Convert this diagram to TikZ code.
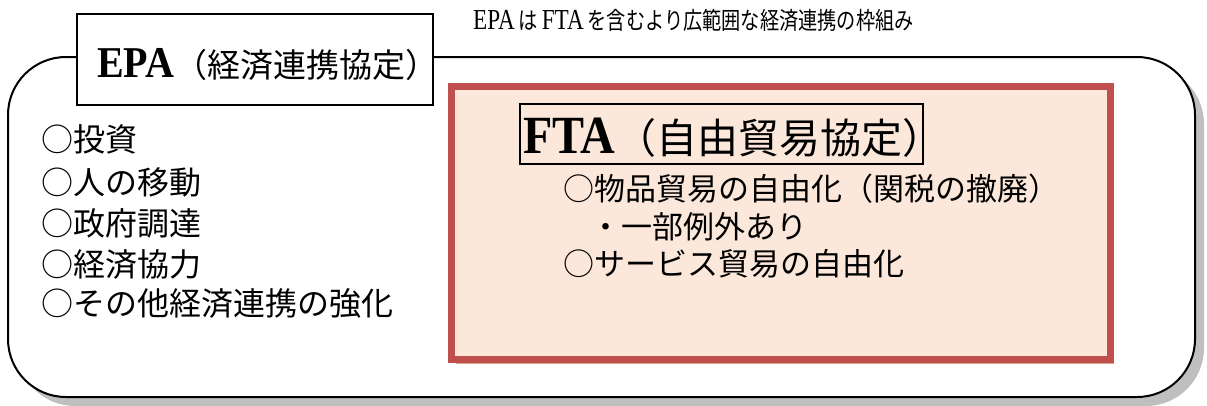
\documentclass[tikz,border=0pt]{standalone}
\usepackage{fontspec}
\setmainfont{Liberation Serif}
\newfontfamily\cjk{Noto Sans CJK JP}
\usetikzlibrary{shadows}
\definecolor{shadowgray}{HTML}{BFBFBF}
\definecolor{ftapink}{HTML}{FBE8DB}
\definecolor{ftared}{HTML}{C0504D}
\definecolor{ftatan}{HTML}{D8A788}
\tikzset{
  frame/.style={draw=black, line width=2pt, fill=white, rounded corners=58pt,
    drop shadow={shadow xshift=9pt, shadow yshift=-9pt, fill=shadowgray, opacity=1}},
  titlebox/.style={draw=black, line width=1.5pt, inner sep=0pt},
  ftabox/.style={draw=ftared, line width=7pt, fill=ftapink,
    drop shadow={shadow xshift=4pt, shadow yshift=-5pt, fill=ftatan, opacity=1}},
  item/.style={anchor=west, inner sep=0pt, font=\cjk\fontsize{32}{38}\selectfont},
  ftaitem/.style={anchor=west, inner sep=0pt, font=\cjk\fontsize{31}{37}\selectfont},
}
\begin{document}
\begin{tikzpicture}[x=1pt,y=-1pt]
\useasboundingbox (0,0) rectangle (1207,405);
% outer EPA frame
\node[frame, minimum width=1187pt, minimum height=340pt, inner sep=0pt] (epaframe) at (601.5,227) {};
% EPA title box
\node[titlebox, fill=white, minimum width=356pt, minimum height=91pt] (epabox) at (255,59.5) {};
\node[anchor=base west, inner sep=0pt] (epatitle) at (97,77)
  {\scalebox{1}[1.1]{\fontsize{40}{44}\selectfont\bfseries EPA}{\cjk\fontsize{33}{38}\selectfont （経済連携協定）}};
% caption at top
\node[anchor=west, inner sep=0pt] (caption) at (473,20)
  {\scalebox{0.8}[1]{\fontsize{29}{32}\selectfont EPA\,{\cjk\fontsize{24}{28}\selectfont は}\,FTA\,{\cjk\fontsize{24}{28}\selectfont を含むより広範囲な経済連携の枠組み}}};
% FTA box
\node[ftabox, minimum width=658.5pt, minimum height=272.5pt, inner sep=0pt] (ftabox) at (780.75,222.75) {};
\node[titlebox, line width=2pt, minimum width=403pt, minimum height=60pt] (ftatitlebox) at (721.5,134) {};
\node[anchor=base west, inner sep=0pt] (ftatitle) at (523,153)
  {\scalebox{1}[1.12]{\fontsize{48}{52}\selectfont\bfseries FTA}{\cjk\fontsize{41}{46}\selectfont （自由貿易協定）}};
% EPA items
\node[item] (e1) at (41,139) {○投資};
\node[item] (e2) at (41,182) {○人の移動};
\node[item] (e3) at (41,223) {○政府調達};
\node[item] (e4) at (41,264) {○経済協力};
\node[item] (e5) at (41,303) {○その他経済連携の強化};
% FTA items
\node[ftaitem] (f1) at (563,189) {○物品貿易の自由化（関税の撤廃）};
\node[ftaitem] (f2) at (590,227) {・一部例外あり};
\node[ftaitem] (f3) at (563,264) {○サービス貿易の自由化};
\end{tikzpicture}
\end{document}
